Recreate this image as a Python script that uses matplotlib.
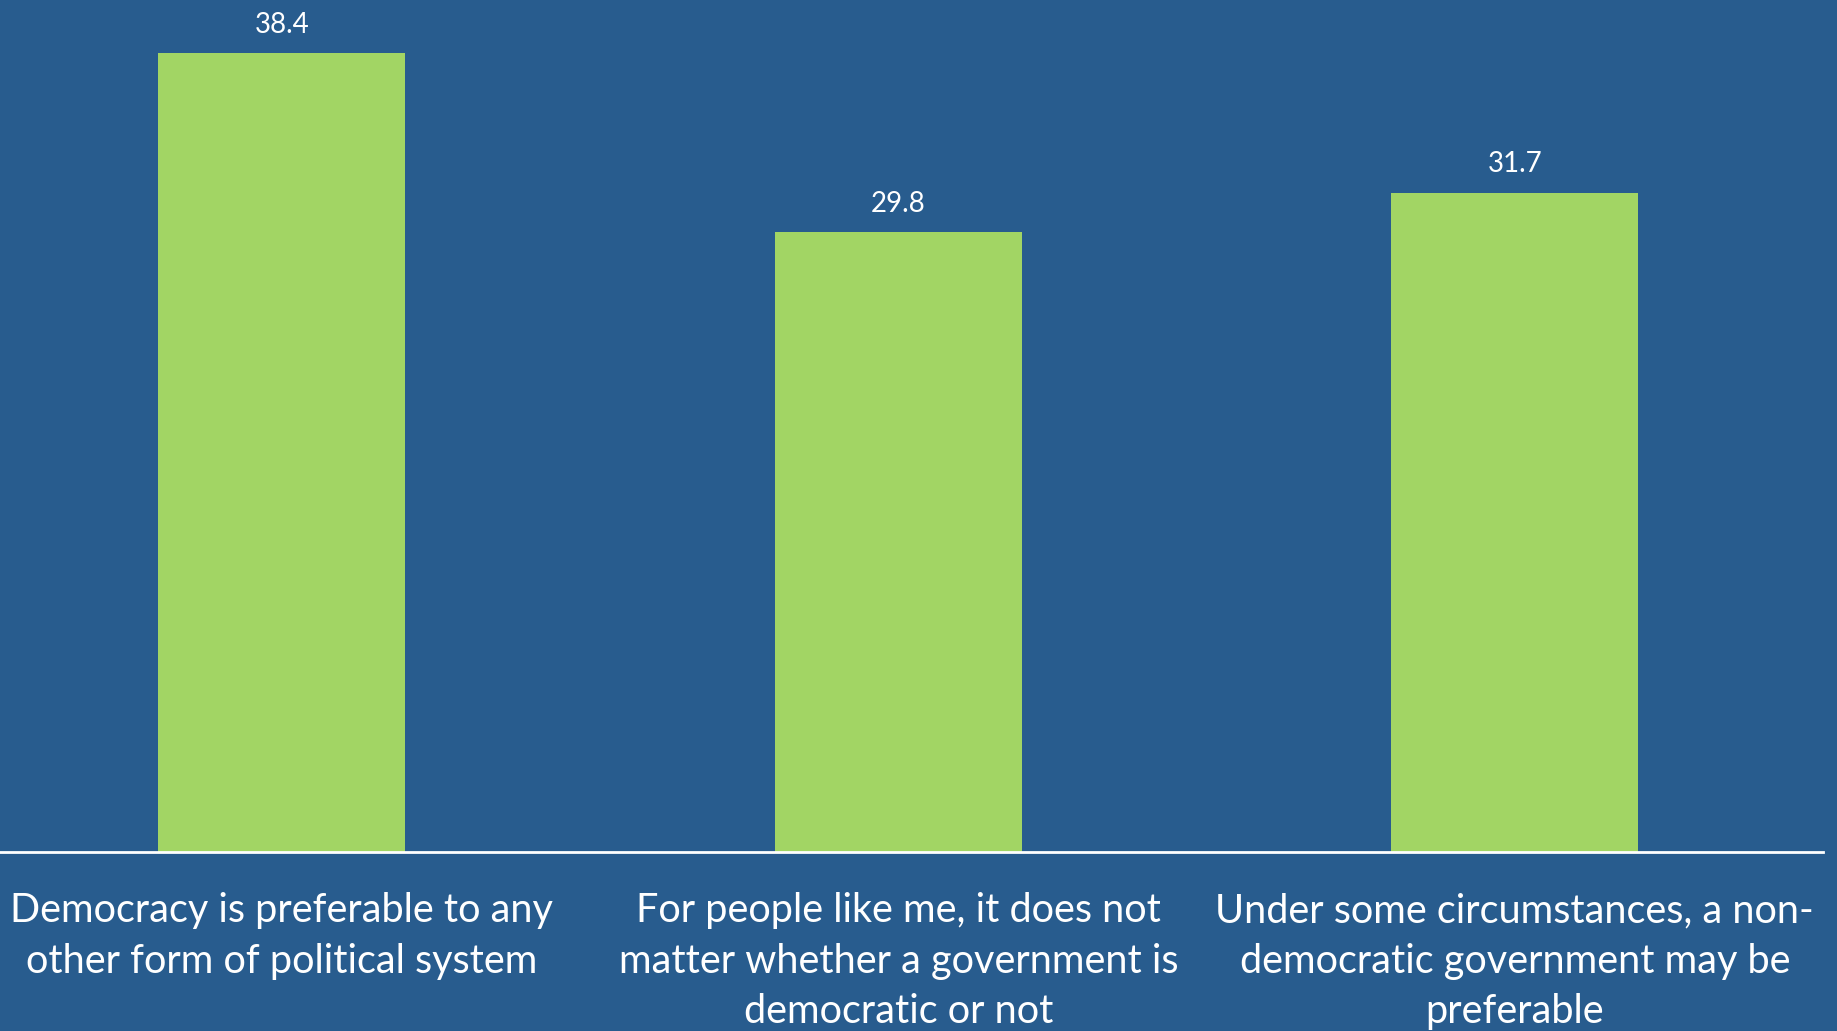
import matplotlib
matplotlib.use("Agg")
import matplotlib.pyplot as plt

categories = [
    "Democracy is preferable to any\nother form of political system",
    "For people like me, it does not\nmatter whether a government is\ndemocratic or not",
    "Under some circumstances, a non-\ndemocratic government may be\npreferable",
]
values = [38.4, 29.8, 31.7]

bg = "#285C8E"
bar_color = "#A2D564"

plt.rcParams['font.family'] = ['Lato', 'DejaVu Sans']

fig = plt.figure(figsize=(18.37, 10.31), dpi=100, facecolor=bg)
ax = fig.add_axes([0, 0.1736, 0.9924, 0.807])
ax.set_facecolor(bg)

x = range(len(values))
bars = ax.bar(x, values, width=0.4, color=bar_color)

for b, v in zip(bars, values):
    ax.annotate(f"{v}", (b.get_x() + b.get_width() / 2, v), xytext=(0, 11),
                textcoords="offset points", ha="center", va="bottom",
                color="white", fontsize=20)

ax.set_xlim(-0.457, 2.5)
ax.set_ylim(0, 40)
ax.set_xticks(list(x))
ax.set_xticklabels(categories, fontsize=28.5, color="white", linespacing=1.45, va="top")
ax.tick_params(axis="x", length=0, pad=29)
ax.set_yticks([])

for s in ["top", "right", "left"]:
    ax.spines[s].set_visible(False)
ax.spines["bottom"].set_color("white")
ax.spines["bottom"].set_linewidth(2)

fig.savefig("out.png", dpi=100, facecolor=bg)
